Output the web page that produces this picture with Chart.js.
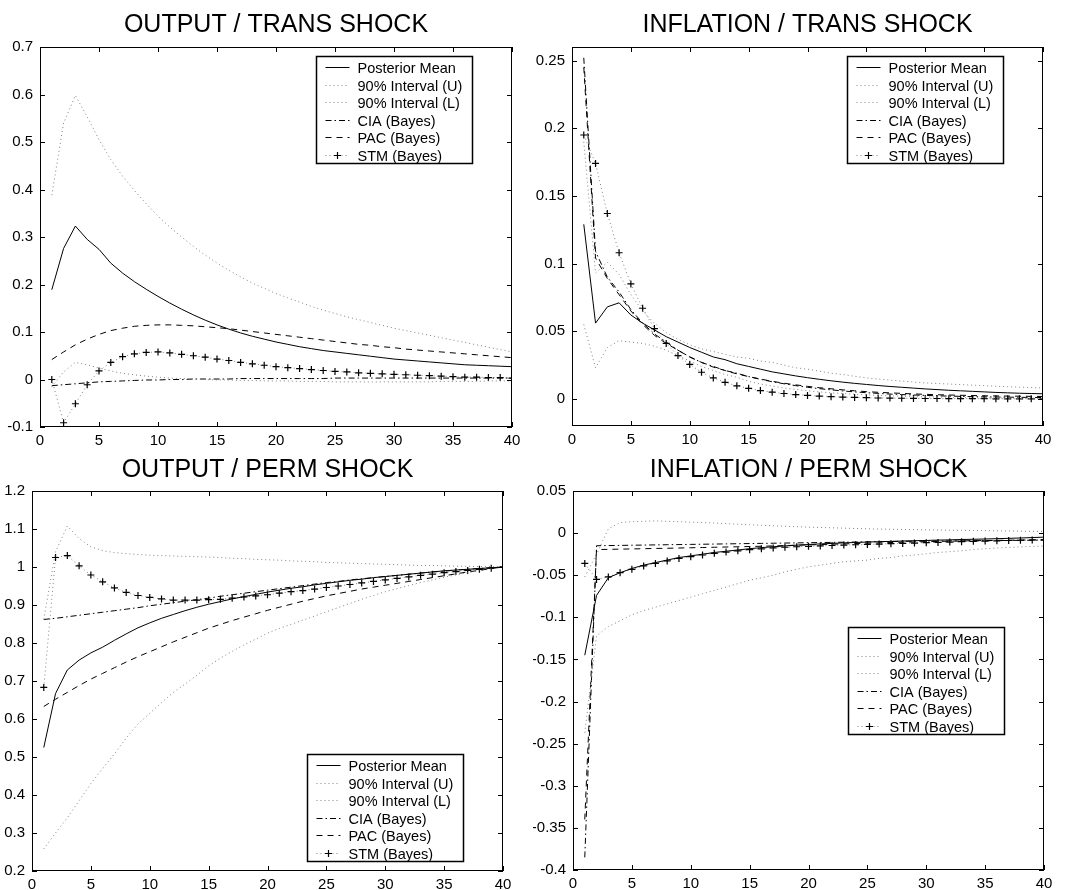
<!DOCTYPE html>
<html>
<head>
<meta charset="utf-8">
<title>Impulse responses</title>
<script src="https://cdn.jsdelivr.net/npm/chart.js@4.4.0/dist/chart.umd.min.js"></script>
<style>
  body { margin: 0; background: #fff; }
  canvas { position: absolute; }
</style>
</head>
<body>
<canvas id="outTrans" width="533" height="445" style="left:0;top:0"></canvas>
<canvas id="inflTrans" width="533" height="445" style="left:533px;top:0"></canvas>
<canvas id="outPerm" width="533" height="445" style="left:0;top:445px"></canvas>
<canvas id="inflPerm" width="533" height="445" style="left:533px;top:445px"></canvas>
<script>
// horizons and labels
var horizons = [1,2,3,4,5,6,7,8,9,10,11,12,13,14,15,16,17,18,19,20,
                21,22,23,24,25,26,27,28,29,30,31,32,33,34,35,36,37,38,39,40];
var xTicks = [0,5,10,15,20,25,30,35,40];
var seriesNames = ['Posterior Mean', '90% Interval (U)', '90% Interval (L)',
                   'CIA (Bayes)', 'PAC (Bayes)', 'STM (Bayes)'];

// OUTPUT / TRANS SHOCK
var outTransTicks = [-0.1,0,0.1,0.2,0.3,0.4,0.5,0.6,0.7];
var outTransMean = [0.189,0.276,0.323,0.295,0.274,0.245,0.224,0.206,0.190,0.175,
  0.161,0.148,0.136,0.125,0.115,0.106,0.098,0.091,0.085,0.079,
  0.074,0.069,0.065,0.061,0.058,0.055,0.052,0.049,0.046,0.043,
  0.041,0.039,0.037,0.035,0.033,0.031,0.030,0.029,0.028,0.027];
var outTransUpper = [0.388,0.540,0.598,0.553,0.505,0.463,0.428,0.398,0.370,0.344,
  0.321,0.300,0.280,0.262,0.245,0.230,0.216,0.203,0.192,0.181,
  0.172,0.163,0.154,0.146,0.139,0.132,0.126,0.120,0.114,0.108,
  0.103,0.098,0.093,0.088,0.083,0.078,0.073,0.068,0.063,0.058];
var outTransLower = [-0.015,0.016,0.036,0.031,0.024,0.018,0.013,0.010,0.007,0.005,
  0.003,0.002,0.001,0.000,-0.001,-0.001,-0.002,-0.002,-0.003,-0.003,
  -0.003,-0.004,-0.004,-0.004,-0.005,-0.005,-0.005,-0.005,-0.005,-0.005,
  -0.005,-0.005,-0.005,-0.004,-0.004,-0.004,-0.004,-0.003,-0.003,-0.003];
var outTransCia = [-0.013,-0.011,-0.009,-0.007,-0.005,-0.004,-0.003,-0.002,-0.001,-0.001,
  0.000,0.000,0.001,0.001,0.001,0.001,0.002,0.002,0.002,0.002,
  0.002,0.002,0.002,0.002,0.003,0.003,0.003,0.003,0.003,0.003,
  0.003,0.003,0.003,0.003,0.003,0.003,0.003,0.003,0.003,0.003];
var outTransPac = [0.042,0.058,0.073,0.085,0.095,0.103,0.108,0.112,0.114,0.115,
  0.115,0.114,0.113,0.111,0.109,0.107,0.104,0.101,0.098,0.095,
  0.092,0.089,0.086,0.083,0.080,0.077,0.074,0.072,0.069,0.067,
  0.064,0.062,0.060,0.058,0.056,0.054,0.052,0.050,0.048,0.046];
var outTransStm = [0.000,-0.091,-0.051,-0.011,0.018,0.036,0.048,0.054,0.057,0.058,
  0.056,0.053,0.050,0.047,0.043,0.040,0.036,0.033,0.030,0.027,
  0.025,0.023,0.021,0.019,0.017,0.016,0.014,0.013,0.012,0.011,
  0.010,0.009,0.008,0.007,0.006,0.005,0.005,0.004,0.004,0.003];

// INFLATION / TRANS SHOCK
var inflTransTicks = [0,0.05,0.1,0.15,0.2,0.25];
var inflTransMean = [0.129,0.056,0.068,0.071,0.062,0.056,0.051,0.046,0.042,0.038,
  0.0345,0.031,0.029,0.026,0.024,0.022,0.020,0.0185,0.017,0.0157,
  0.0145,0.0134,0.0124,0.0115,0.0107,0.0099,0.0092,0.0086,0.0080,0.0074,
  0.0069,0.0064,0.0060,0.0056,0.0052,0.0048,0.0045,0.0042,0.0040,0.0038];
var inflTransUpper = [0.190,0.093,0.101,0.092,0.077,0.065,0.056,0.049,0.044,0.040,
  0.037,0.035,0.033,0.031,0.030,0.028,0.027,0.025,0.023,0.022,
  0.0205,0.019,0.018,0.0167,0.0155,0.0147,0.0139,0.0132,0.0125,0.0118,
  0.0114,0.0110,0.0106,0.0102,0.0098,0.0094,0.0090,0.0087,0.0084,0.0081];
var inflTransLower = [0.055,0.023,0.038,0.043,0.042,0.041,0.039,0.036,0.032,0.028,
  0.024,0.021,0.018,0.016,0.013,0.011,0.0095,0.008,0.007,0.006,
  0.0052,0.0045,0.0040,0.0035,0.0030,0.0026,0.0023,0.0020,0.0017,0.0015,
  0.0013,0.0012,0.0010,0.0009,0.0008,0.0007,0.0006,0.0005,0.0005,0.0004];
var inflTransCia = [0.252,0.109,0.090,0.079,0.066,0.056,0.048,0.042,0.036,0.031,
  0.027,0.024,0.021,0.019,0.0165,0.0145,0.0127,0.0112,0.0098,0.0086,
  0.0076,0.0067,0.0059,0.0052,0.0046,0.0041,0.0036,0.0032,0.0029,0.0026,
  0.0023,0.0021,0.0019,0.0017,0.0015,0.0014,0.0013,0.0012,0.0011,0.0010];
var inflTransPac = [0.245,0.104,0.089,0.077,0.065,0.055,0.047,0.041,0.036,0.031,
  0.027,0.0235,0.021,0.0185,0.0165,0.0147,0.0130,0.0116,0.0104,0.0093,
  0.0083,0.0075,0.0067,0.0060,0.0054,0.0049,0.0045,0.0041,0.0037,0.0034,
  0.0031,0.0029,0.0027,0.0025,0.0023,0.0022,0.0021,0.0020,0.0019,0.0018];
var inflTransStm = [0.195,0.174,0.137,0.108,0.085,0.067,0.052,0.041,0.032,0.0255,
  0.0197,0.0155,0.0123,0.0097,0.0078,0.0062,0.0050,0.0040,0.0032,0.0026,
  0.0021,0.0017,0.0014,0.0011,0.0009,0.0007,0.0006,0.0005,0.0004,0.0003,
  0.0003,0.0002,0.0002,0.0002,0.0002,0.0001,0.0001,0.0001,0.0001,0.0001];

// OUTPUT / PERM SHOCK
var outPermTicks = [0.2,0.3,0.4,0.5,0.6,0.7,0.8,0.9,1,1.1,1.2];
var outPermMean = [0.525,0.667,0.729,0.755,0.774,0.789,0.807,0.824,0.840,0.853,
  0.865,0.875,0.885,0.894,0.902,0.909,0.916,0.922,0.928,0.934,
  0.939,0.944,0.948,0.953,0.957,0.961,0.965,0.968,0.972,0.975,
  0.978,0.981,0.984,0.987,0.990,0.992,0.994,0.996,0.998,1.000];
var outPermUpper = [0.862,1.040,1.108,1.075,1.053,1.043,1.038,1.035,1.033,1.031,
  1.030,1.029,1.028,1.027,1.026,1.025,1.023,1.022,1.020,1.019,
  1.018,1.016,1.015,1.014,1.012,1.011,1.010,1.009,1.008,1.007,
  1.006,1.005,1.004,1.004,1.003,1.002,1.002,1.001,1.001,1.000];
var outPermLower = [0.258,0.300,0.340,0.385,0.430,0.470,0.508,0.550,0.587,0.615,
  0.643,0.670,0.692,0.715,0.740,0.760,0.778,0.795,0.810,0.826,
  0.838,0.849,0.860,0.871,0.882,0.893,0.904,0.915,0.925,0.935,
  0.943,0.951,0.959,0.966,0.973,0.979,0.985,0.990,0.995,1.000];
var outPermCia = [0.862,0.865,0.869,0.873,0.877,0.881,0.885,0.889,0.893,0.898,
  0.902,0.906,0.910,0.914,0.918,0.923,0.927,0.931,0.935,0.939,
  0.943,0.947,0.951,0.955,0.959,0.962,0.966,0.969,0.972,0.975,
  0.978,0.981,0.984,0.987,0.989,0.992,0.994,0.996,0.998,1.000];
var outPermPac = [0.633,0.652,0.670,0.688,0.705,0.720,0.735,0.750,0.764,0.777,
  0.790,0.803,0.815,0.827,0.839,0.849,0.859,0.868,0.877,0.886,
  0.894,0.902,0.910,0.917,0.924,0.930,0.936,0.942,0.947,0.952,
  0.957,0.962,0.967,0.972,0.977,0.982,0.987,0.991,0.996,1.000];
var outPermStm = [0.683,1.025,1.030,1.003,0.979,0.961,0.945,0.933,0.925,0.920,
  0.916,0.913,0.913,0.913,0.914,0.915,0.918,0.921,0.924,0.927,
  0.931,0.935,0.938,0.942,0.946,0.950,0.954,0.958,0.962,0.966,
  0.970,0.974,0.978,0.981,0.985,0.988,0.991,0.994,0.997,1.000];

// INFLATION / PERM SHOCK
var inflPermTicks = [-0.4,-0.35,-0.3,-0.25,-0.2,-0.15,-0.1,-0.05,0,0.05];
var inflPermMean = [-0.145,-0.074,-0.053,-0.047,-0.042,-0.038,-0.035,-0.032,-0.029,-0.027,
  -0.025,-0.023,-0.0215,-0.020,-0.0185,-0.0172,-0.0162,-0.0152,-0.0143,-0.0135,
  -0.0128,-0.0122,-0.0116,-0.0111,-0.0106,-0.0102,-0.0098,-0.0094,-0.0090,-0.0087,
  -0.0083,-0.0080,-0.0076,-0.0073,-0.0070,-0.0066,-0.0062,-0.0058,-0.0053,-0.0048];
var inflPermUpper = [-0.052,-0.025,0.005,0.0125,0.0135,0.014,0.0145,0.014,0.0135,0.013,
  0.0125,0.012,0.0113,0.0106,0.0099,0.0093,0.0087,0.0081,0.0076,0.0071,
  0.0067,0.0063,0.0059,0.0055,0.0051,0.0048,0.0046,0.0043,0.0041,0.0039,
  0.0037,0.0035,0.0033,0.0031,0.0029,0.0027,0.0025,0.0023,0.0021,0.0020];
var inflPermLower = [-0.237,-0.122,-0.111,-0.104,-0.097,-0.092,-0.088,-0.084,-0.080,-0.076,
  -0.072,-0.068,-0.064,-0.060,-0.056,-0.053,-0.050,-0.046,-0.043,-0.040,
  -0.038,-0.036,-0.034,-0.033,-0.032,-0.030,-0.029,-0.027,-0.026,-0.0245,
  -0.023,-0.022,-0.021,-0.0195,-0.0185,-0.0177,-0.0170,-0.0163,-0.0158,-0.0154];
var inflPermCia = [-0.385,-0.0150,-0.0148,-0.0146,-0.0144,-0.0142,-0.0140,-0.0138,-0.0136,-0.0134,
  -0.0132,-0.0130,-0.0128,-0.0126,-0.0124,-0.0122,-0.0120,-0.0118,-0.0116,-0.0114,
  -0.0112,-0.0110,-0.0108,-0.0106,-0.0104,-0.0102,-0.0100,-0.0098,-0.0096,-0.0094,
  -0.0093,-0.0092,-0.0091,-0.0090,-0.0089,-0.0088,-0.0087,-0.0086,-0.0085,-0.0084];
var inflPermPac = [-0.340,-0.0195,-0.0193,-0.0190,-0.0188,-0.0185,-0.0182,-0.0180,-0.0177,-0.0174,
  -0.0171,-0.0168,-0.0165,-0.0162,-0.0159,-0.0156,-0.0152,-0.0148,-0.0144,-0.0140,
  -0.0136,-0.0132,-0.0128,-0.0124,-0.0120,-0.0116,-0.0112,-0.0108,-0.0105,-0.0102,
  -0.0099,-0.0096,-0.0093,-0.0090,-0.0088,-0.0086,-0.0084,-0.0082,-0.0080,-0.0078];
var inflPermStm = [-0.036,-0.055,-0.052,-0.047,-0.043,-0.039,-0.036,-0.033,-0.030,-0.028,
  -0.026,-0.024,-0.0225,-0.021,-0.0197,-0.0186,-0.0176,-0.0168,-0.0162,-0.0157,
  -0.0152,-0.0147,-0.0142,-0.0138,-0.0134,-0.0130,-0.0126,-0.0122,-0.0118,-0.0114,
  -0.0110,-0.0106,-0.0102,-0.0098,-0.0094,-0.0091,-0.0088,-0.0085,-0.0082,-0.0079];

var FONT = '"Liberation Sans", Arial, Helvetica, sans-serif';
var DOT = '#808080';

// line look of the six series (same order as seriesNames)
var lineStyles = [
  { borderColor: '#000', borderDash: [] },
  { borderColor: DOT, borderDash: [1, 3] },
  { borderColor: DOT, borderDash: [1, 3] },
  { borderColor: '#000', borderDash: [6, 3, 1.5, 3] },
  { borderColor: '#000', borderDash: [6, 5] },
  { borderColor: DOT, borderDash: [1, 3], marker: true }
];

function fmt(v) {
  return String(+v.toFixed(4));
}

// box + inward tick marks on all four sides, like the old matlab plots
var framePlugin = {
  id: 'frame',
  afterDatasetsDraw: function (chart) {
    var ctx = chart.ctx, a = chart.chartArea;
    var xs = chart.scales.x, ys = chart.scales.y;
    ctx.save();
    ctx.strokeStyle = '#000';
    ctx.lineWidth = 1;
    ctx.beginPath();
    xs.ticks.forEach(function (t) {
      var px = Math.round(xs.getPixelForValue(t.value)) + 0.5;
      ctx.moveTo(px, a.bottom); ctx.lineTo(px, a.bottom - 5);
      ctx.moveTo(px, a.top); ctx.lineTo(px, a.top + 5);
    });
    ys.ticks.forEach(function (t) {
      var py = Math.round(ys.getPixelForValue(t.value)) + 0.5;
      ctx.moveTo(a.left, py); ctx.lineTo(a.left + 5, py);
      ctx.moveTo(a.right, py); ctx.lineTo(a.right - 5, py);
    });
    ctx.stroke();
    ctx.strokeRect(Math.round(a.left) + 0.5, Math.round(a.top) + 0.5,
                   Math.round(a.width) - 1, Math.round(a.height) - 1);
    ctx.restore();
  }
};

// boxed legend inside the axes
var boxLegendPlugin = {
  id: 'boxLegend',
  afterDraw: function (chart, args, opts) {
    var ctx = chart.ctx, a = chart.chartArea;
    var w = 156, h = 107;
    var left = a.right - opts.right - w;
    var top = opts.top !== undefined ? a.top + opts.top : a.bottom - opts.bottom - h;
    left = Math.round(left) + 0.5;
    top = Math.round(top) + 0.5;
    ctx.save();
    ctx.fillStyle = '#fff';
    ctx.fillRect(left, top, w, h);
    ctx.strokeStyle = '#000';
    ctx.lineWidth = 1.5;
    ctx.strokeRect(left, top, w, h);
    ctx.font = '14.5px ' + FONT;
    ctx.textBaseline = 'middle';
    ctx.fillStyle = '#000';
    chart.data.datasets.forEach(function (ds, i) {
      var y = Math.round(top + 10.5 + i * 17.5) + 0.5;
      ctx.lineWidth = 1;
      ctx.strokeStyle = ds.borderColor;
      ctx.setLineDash(ds.borderDash);
      ctx.beginPath();
      ctx.moveTo(left + 9, y);
      ctx.lineTo(left + 33, y);
      ctx.stroke();
      ctx.setLineDash([]);
      if (ds.pointStyle === 'cross') {
        var cx = left + 21;
        ctx.strokeStyle = '#000';
        ctx.lineWidth = 1.2;
        ctx.beginPath();
        ctx.moveTo(cx - 3.5, y); ctx.lineTo(cx + 3.5, y);
        ctx.moveTo(cx, y - 3.5); ctx.lineTo(cx, y + 3.5);
        ctx.stroke();
      }
      ctx.fillText(ds.label, left + 41, y + 1);
    });
    ctx.restore();
  }
};

function makePanel(id, p) {
  var datasets = p.series.map(function (vals, i) {
    var st = lineStyles[i];
    var ds = {
      label: seriesNames[i],
      data: vals.map(function (v, k) { return { x: horizons[k], y: v }; }),
      borderColor: st.borderColor,
      borderDash: st.borderDash,
      borderWidth: 1,
      tension: 0,
      fill: false,
      pointRadius: 0
    };
    if (st.marker) {
      ds.pointStyle = 'cross';
      ds.pointRadius = 3.5;
      ds.pointBorderColor = '#000';
      ds.pointBorderWidth = 1.2;
    }
    return ds;
  });

  return new Chart(document.getElementById(id), {
    type: 'line',
    data: { datasets: datasets },
    plugins: [framePlugin, boxLegendPlugin],
    options: {
      responsive: false,
      animation: false,
      events: [],
      layout: { padding: { left: 0, right: 533 - p.plot.right, top: 0, bottom: 0 } },
      plugins: {
        legend: { display: false },
        tooltip: { enabled: false },
        title: {
          display: true,
          text: p.title,
          color: '#000',
          fullSize: false,
          font: { family: FONT, size: 25, weight: 'normal' },
          padding: { top: 10, bottom: p.plot.top - 40 }
        },
        boxLegend: p.legend
      },
      scales: {
        x: {
          type: 'linear',
          min: 0,
          max: 40,
          afterBuildTicks: function (s) { s.ticks = xTicks.map(function (v) { return { value: v }; }); },
          afterFit: function (s) { s.height = 445 - p.plot.bottom; },
          grid: { display: false, drawTicks: false },
          border: { display: false },
          ticks: { color: '#000', padding: 5, maxRotation: 0, autoSkip: false,
                   font: { family: FONT, size: 15 } }
        },
        y: {
          min: p.yMin,
          max: p.yMax,
          afterBuildTicks: function (s) { s.ticks = p.yTicks.map(function (v) { return { value: v }; }); },
          afterFit: function (s) { s.width = p.plot.left; },
          grid: { display: false, drawTicks: false },
          border: { display: false },
          ticks: { color: '#000', padding: 7, autoSkip: false,
                   font: { family: FONT, size: 15 },
                   callback: function (v) { return fmt(v); } }
        }
      }
    }
  });
}

makePanel('outTrans', {
  title: 'OUTPUT / TRANS SHOCK',
  series: [outTransMean, outTransUpper, outTransLower, outTransCia, outTransPac, outTransStm],
  yMin: -0.1, yMax: 0.7, yTicks: outTransTicks,
  plot: { left: 40, right: 512, top: 47, bottom: 427 },
  legend: { right: 40, top: 9 }
});

makePanel('inflTrans', {
  title: 'INFLATION / TRANS SHOCK',
  series: [inflTransMean, inflTransUpper, inflTransLower, inflTransCia, inflTransPac, inflTransStm],
  yMin: -0.02, yMax: 0.26, yTicks: inflTransTicks,
  plot: { left: 39, right: 510, top: 47, bottom: 426 },
  legend: { right: 40, top: 9 }
});

makePanel('outPerm', {
  title: 'OUTPUT / PERM SHOCK',
  series: [outPermMean, outPermUpper, outPermLower, outPermCia, outPermPac, outPermStm],
  yMin: 0.2, yMax: 1.2, yTicks: outPermTicks,
  plot: { left: 32, right: 503, top: 46, bottom: 426 },
  legend: { right: 40, bottom: 10 }
});

makePanel('inflPerm', {
  title: 'INFLATION / PERM SHOCK',
  series: [inflPermMean, inflPermUpper, inflPermLower, inflPermCia, inflPermPac, inflPermStm],
  yMin: -0.4, yMax: 0.05, yTicks: inflPermTicks,
  plot: { left: 40, right: 511, top: 46, bottom: 425 },
  legend: { right: 40, top: 136 }
});
</script>
</body>
</html>
